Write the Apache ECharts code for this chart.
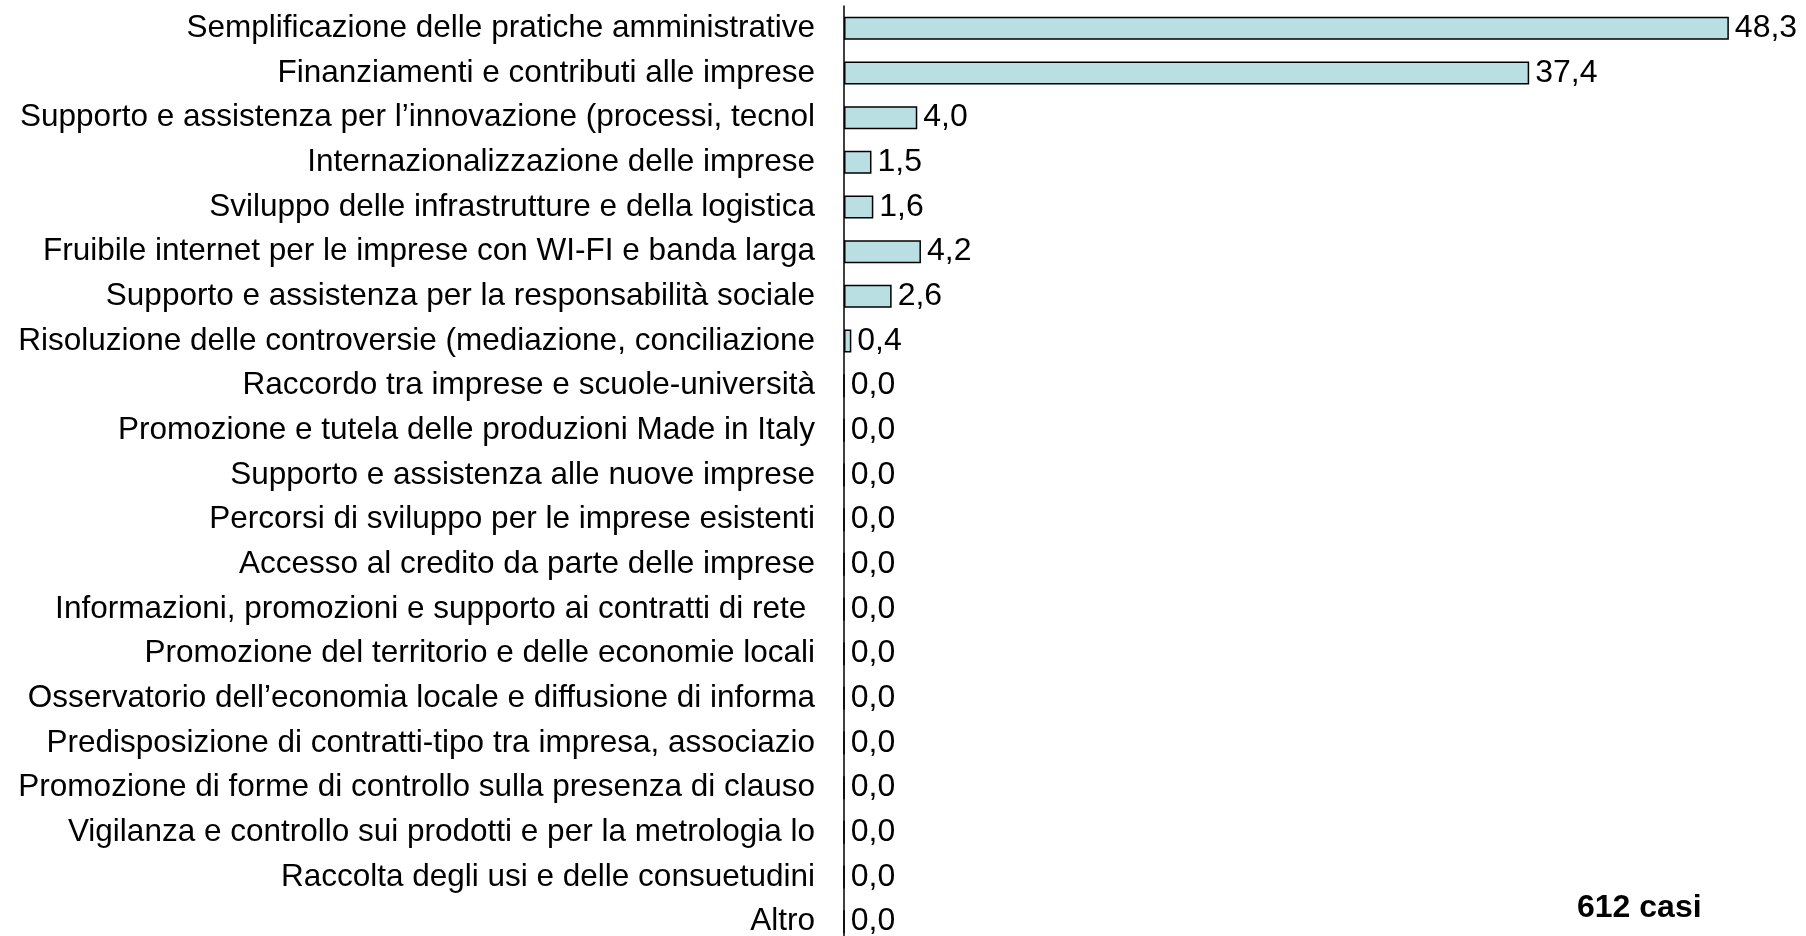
<!DOCTYPE html>
<html>
<head>
<meta charset="utf-8">
<script src="https://cdn.jsdelivr.net/npm/echarts@6/dist/echarts.min.js"></script>
<style>
html,body{margin:0;padding:0;background:#fff;overflow:hidden}
#main{width:1806px;height:950px}
</style>
</head>
<body>
<div id="main"></div>
<script>
// categorie e valori (%)
let categorie = [
	"Semplificazione delle pratiche amministrative",
	"Finanziamenti e contributi alle imprese",
	"Supporto e assistenza per l\u2019innovazione (processi, tecnol",
	"Internazionalizzazione delle imprese",
	"Sviluppo delle infrastrutture e della logistica",
	"Fruibile internet per le imprese con WI-FI e banda larga",
	"Supporto e assistenza per la responsabilità sociale",
	"Risoluzione delle controversie (mediazione, conciliazione",
	"Raccordo tra imprese e scuole-università",
	"Promozione e tutela delle produzioni Made in Italy",
	"Supporto e assistenza alle nuove imprese",
	"Percorsi di sviluppo per le imprese esistenti",
	"Accesso al credito da parte delle imprese",
	"Informazioni, promozioni e supporto ai contratti di rete ",
	"Promozione del territorio e delle economie locali",
	"Osservatorio dell\u2019economia locale e diffusione di informa",
	"Predisposizione di contratti-tipo tra impresa, associazio",
	"Promozione di forme di controllo sulla presenza di clauso",
	"Vigilanza e controllo sui prodotti e per la metrologia lo",
	"Raccolta degli usi e delle consuetudini",
	"Altro"
]
let valori = [48.3, 37.4, 4.0, 1.5, 1.6, 4.2, 2.6, 0.4, 0, 0, 0, 0, 0, 0, 0, 0, 0, 0, 0, 0, 0]
let nota = "612 casi"

// il div è più alto della finestra: la griglia continua oltre il bordo in basso
var myChart = echarts.init(document.getElementById("main"))
var font = "'Liberation Sans', Arial, sans-serif"

var option = {
	animation: false,
	grid: {left: 844, top: 6, width: 916, height: 938, containLabel: false},
	xAxis: {
		type: 'value',
		min: 0,
		max: 50,
		show: false
	},
	yAxis: {
		type: 'category',
		data: categorie,
		inverse: true,
		axisLine: {show: true, lineStyle: {color: '#000', width: 1.5}},
		axisTick: {show: false},
		axisLabel: {
			margin: 29,
			fontSize: 31.5,
			color: '#000',
			fontFamily: font,
			padding: [8, 0, 0, 0]
		}
	},
	series: [{
		type: 'bar',
		data: valori,
		barWidth: 23,
		itemStyle: {color: '#B9DFE3', borderColor: '#000', borderWidth: 1.5},
		label: {
			show: true,
			position: 'right',
			distance: 6,
			fontSize: 32,
			color: '#000',
			fontFamily: font,
			padding: [7, 0, 0, 0],
			formatter: function(p){ return p.value.toFixed(1).replace('.', ',') }
		}
	}],
	graphic: [{
		type: 'text',
		left: 1577,
		top: 892,
		style: {text: nota, fontSize: 32, fontWeight: 'bold', fill: '#000', fontFamily: font}
	}]
}
myChart.setOption(option)
</script>
</body>
</html>
